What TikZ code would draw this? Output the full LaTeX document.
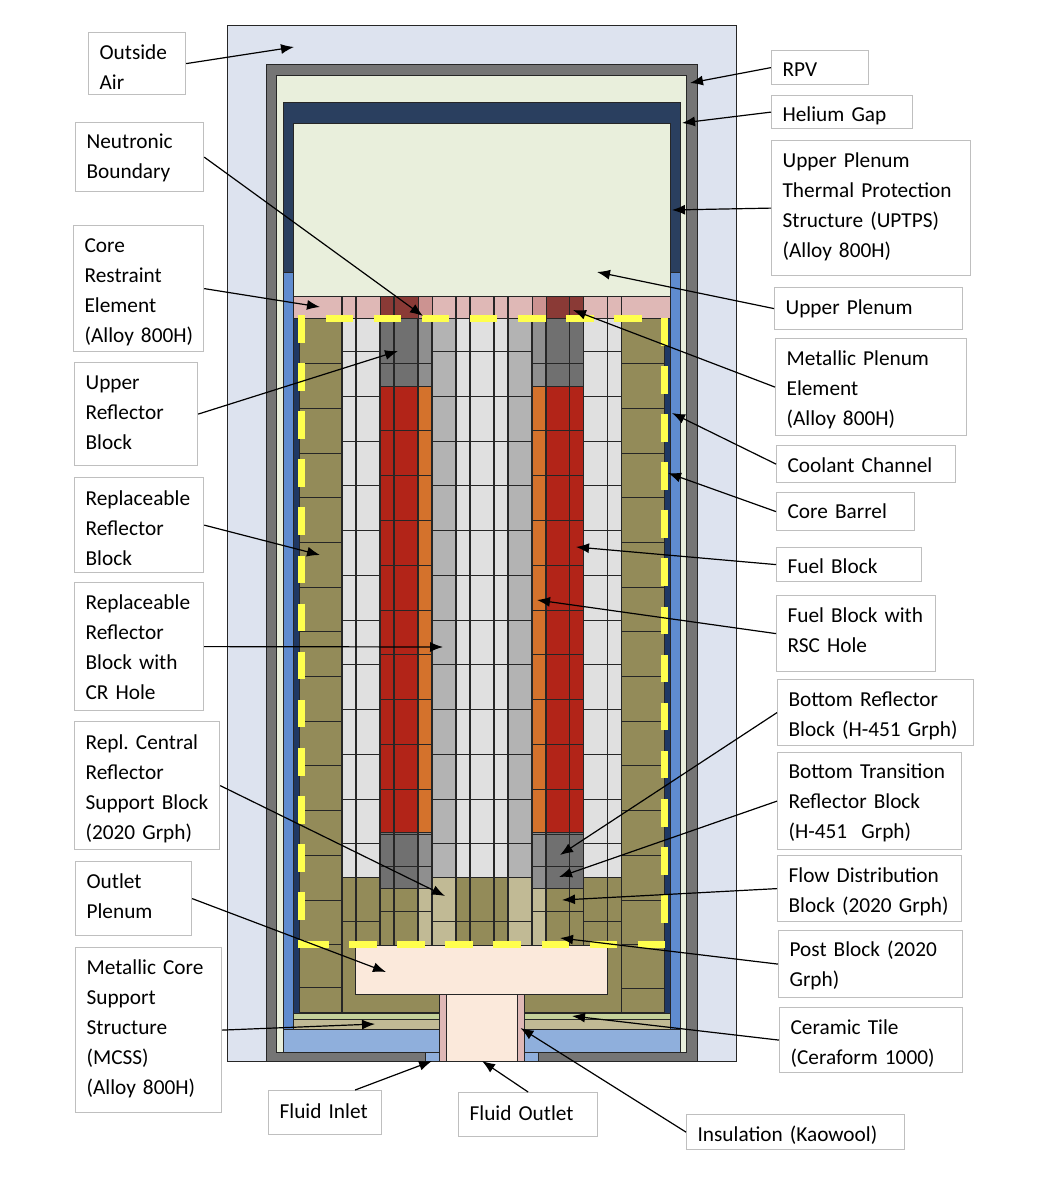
\documentclass[tikz,border=0pt]{standalone}
\usepackage{fontspec}
\setmainfont[WordSpace=0.8]{Carlito}
\usetikzlibrary{arrows.meta}
\tikzset{>={Latex[length=13pt,width=10pt]}}
\definecolor{aircol}{HTML}{DDE3EF}
\definecolor{rpvcol}{HTML}{757575}
\definecolor{gascol}{HTML}{E9EFDC}
\definecolor{navycol}{HTML}{2A3F5F}
\definecolor{barrelcol}{HTML}{5F8CCF}
\definecolor{channelcol}{HTML}{1F3864}
\definecolor{olivecol}{HTML}{938B59}
\definecolor{pinkcol}{HTML}{DFB8B6}
\definecolor{rosecol}{HTML}{CC9391}
\definecolor{brickcol}{HTML}{8A3A36}
\definecolor{tilecol}{HTML}{C5D19A}
\definecolor{tancol}{HTML}{C1BA95}
\definecolor{skycol}{HTML}{8FAFDC}
\definecolor{peachcol}{HTML}{FBE9DB}
\definecolor{lightcol}{HTML}{E0E0E0}
\definecolor{midcol}{HTML}{B3B3B3}
\definecolor{darkcol}{HTML}{707070}
\definecolor{greycol}{HTML}{8F8F8F}
\definecolor{redcol}{HTML}{B22418}
\definecolor{orangecol}{HTML}{D4722C}
\definecolor{yellowcol}{HTML}{FFFF4D}
\tikzset{part/.style = {draw=black!85, line width=0.9pt},
cut/.style = {draw=black!85, line width=1.25pt},
bound/.style = {yellowcol, line width=7pt, dash pattern=on 27.6pt off 20.5pt},
lbl/.style 2 args = {draw=black!25, line width=1.2pt, fill=white, anchor=north west,
inner xsep=11pt, inner ysep=0pt, align=left, text width=#1pt-22pt, minimum height=#2pt,
font=\fontsize{21.3}{30}\selectfont\frenchspacing},
tip/.style = {->, line width=1.2pt}}
\newcommand{\blk}[5]{\draw[part, fill=#1] (#2,#3) rectangle (#4,#5);}
\newcommand{\lbltxt}[2]{\raisebox{\dimexpr -#1pt-5pt\relax}[0pt][0pt]{\parbox[c]{\hsize}{#2}}}

\begin{document}
\begin{tikzpicture}[x=1pt,y=-1pt]
    \useasboundingbox (0,0) rectangle (1038,1196);

    % vessel and gas spaces
    \blk{aircol}{227.5}{25}{736}{1061}
    \blk{rpvcol}{266}{64}{697}{1061}
    \blk{gascol}{276.5}{75.5}{686.5}{1052}
    \blk{navycol}{283}{102}{680}{272}
    \blk{barrelcol}{283}{272}{680}{1030}
    \blk{channelcol}{293.5}{318}{670}{1013}
    \blk{gascol}{293.5}{123.5}{670}{296}

    % top element row
    \blk{pinkcol}{293.5}{296}{670}{318}
    \blk{brickcol}{380}{296}{418}{318}
    \blk{rosecol}{418}{296}{432}{318}
    \blk{rosecol}{532}{296}{546}{318}
    \blk{brickcol}{546}{296}{583.5}{318}
    \foreach \x in {342,356,394,456,470,494,508,569.5,607.5,621.5}
        \draw[cut] (\x,296) -- (\x,318);

    % side reflector
    \blk{olivecol}{299}{318}{342}{1012.5}
    \blk{olivecol}{621.5}{318}{664}{1012.5}
    \blk{olivecol}{342}{877}{621.5}{1012.5}
    \foreach \k in {0,...,13} {
        \draw[cut] (299,{floor(363.7+44.7*\k)+0.5}) -- (342,{floor(363.7+44.7*\k)+0.5});
        \draw[cut] (621.5,{floor(363.7+44.7*\k)+0.5}) -- (664,{floor(363.7+44.7*\k)+0.5});
    }
    \draw[cut] (299,987.5) -- (342,987.5);
    \draw[cut] (621.5,988.5) -- (664,988.5);

    % bottom plates
    \blk{skycol}{283.5}{1029.5}{680}{1052}
    \blk{tilecol}{293}{1013}{670.5}{1019.5}
    \blk{tancol}{293.5}{1019.5}{670.5}{1029.5}
    \blk{skycol}{425.5}{1052}{538}{1061}
    \blk{pinkcol}{439.5}{994.5}{524}{1061}
    \blk{peachcol}{446.5}{994.5}{517.5}{1061}

    % columns of graphite blocks
    \blk{lightcol}{342}{318}{380}{877}
    \blk{lightcol}{583.5}{318}{621.5}{877}
    \blk{midcol}{432}{318}{456}{877}
    \blk{lightcol}{456}{318}{508}{877}
    \blk{midcol}{508}{318}{532}{877}
    \blk{tancol}{432}{877}{456}{945}
    \blk{tancol}{508}{877}{532}{945}
    \foreach \k in {0,...,11} {
        \draw[cut] (342,{floor(351.7+44.75*\k)+0.5}) -- (380,{floor(351.7+44.75*\k)+0.5});
        \draw[cut] (432,{floor(351.7+44.75*\k)+0.5}) -- (532,{floor(351.7+44.75*\k)+0.5});
        \draw[cut] (583.5,{floor(351.7+44.75*\k)+0.5}) -- (621.5,{floor(351.7+44.75*\k)+0.5});
    }
    \foreach \a/\b in {342/380,432/532,583.5/621.5}
        \draw[cut] (\a,921.5) -- (\b,921.5);

    % fuel columns
    \blk{darkcol}{380}{318}{418}{386.5}
    \blk{greycol}{418}{318}{432}{386.5}
    \blk{greycol}{532}{318}{546}{386.5}
    \blk{darkcol}{546}{318}{583.5}{386.5}
    \blk{redcol}{380}{386.5}{418}{832.5}
    \blk{orangecol}{418}{386.5}{432}{832.5}
    \blk{orangecol}{532}{386.5}{546}{832.5}
    \blk{redcol}{546}{386.5}{583.5}{832.5}
    \blk{darkcol}{380}{832.5}{418}{888.5}
    \blk{greycol}{418}{832.5}{432}{888.5}
    \blk{greycol}{532}{832.5}{546}{888.5}
    \blk{darkcol}{546}{832.5}{583.5}{888.5}
    \blk{olivecol}{380}{888.5}{418}{945}
    \blk{tancol}{418}{888.5}{432}{945}
    \blk{tancol}{532}{888.5}{546}{945}
    \blk{olivecol}{546}{888.5}{583.5}{945}
    \foreach \a/\b in {380/432,532/583.5} {
        \foreach \k in {0,...,9}
            \draw[cut] (\a,{floor(430.8+44.8*\k)+0.5}) -- (\b,{floor(430.8+44.8*\k)+0.5});
        \foreach \y in {363.5,866.5,911.5}
            \draw[cut] (\a,\y) -- (\b,\y);
    }

    % vertical joints
    \foreach \x in {356,394,456,470,494,508,569.5,380,418,432,532,546,583.5,607.5}
        \draw[cut] (\x,318) -- (\x,945);
    \draw[cut] (342,318) -- (342,1012.5);
    \draw[cut] (621.5,318) -- (621.5,1012.5);

    % outlet plenum
    \blk{peachcol}{355.5}{945}{607.5}{994.5}

    % neutronic boundary
    \draw[bound] (301,315) -- (301,947.5);
    \draw[bound] (301,944.3) -- (666.5,944.3);
    \draw[bound] (664,922.7) -- (664,315);
    \draw[bound] (641.7,318.3) -- (326,318.3);

    % labels
    \node[lbl={97}{62}] (outside) at (88,32) {\lbltxt{4}{Outside\\Air}};
    \node[lbl={128}{69}] (neutronic) at (75,122) {\lbltxt{1}{Neutronic\\Boundary}};
    \node[lbl={130}{126}] (restraint) at (73,225) {\lbltxt{4}{Core\\Restraint\\Element\\\mbox{(Alloy 800H)}}};
    \node[lbl={123}{103}] (upperrefl) at (74,362) {\lbltxt{-1}{Upper\\Reflector\\Block}};
    \node[lbl={129}{95}] (replrefl) at (74,477) {\lbltxt{3}{Replaceable\\Reflector\\Block}};
    \node[lbl={129}{128}] (replcr) at (74,582) {\lbltxt{1}{Replaceable\\Reflector\\Block with\\CR Hole}};
    \node[lbl={145}{128}] (centralsup) at (74,721) {\lbltxt{3}{Repl. Central\\Reflector\\Support Block\\(2020 Grph)}};
    \node[lbl={116}{74}] (outletpl) at (75,861) {\lbltxt{-2}{Outlet\\Plenum}};
    \node[lbl={146}{165}] (mcss) at (75,947) {\lbltxt{-1}{Metallic Core\\Support\\Structure\\(MCSS)\\(Alloy 800H)}};
    \node[lbl={113}{44}] (inlet) at (268,1090) {\lbltxt{-1}{Fluid Inlet}};
    \node[lbl={139}{44}] (outlet) at (458,1092) {\lbltxt{-1}{Fluid Outlet}};
    \node[lbl={218}{35}] (kaowool) at (686,1114) {\lbltxt{3}{Insulation (Kaowool)}};
    \node[lbl={97}{34}] (rpv) at (771,50) {\lbltxt{2}{RPV}};
    \node[lbl={141}{33}] (helium) at (771,95) {\lbltxt{4}{Helium Gap}};
    \node[lbl={199}{135}] (uptps) at (771,140) {\lbltxt{-1}{Upper Plenum\\Thermal Protection\\Structure (UPTPS)\\(Alloy 800H)}};
    \node[lbl={188}{42}] (upperpl) at (774,287) {\lbltxt{0}{Upper Plenum}};
    \node[lbl={191}{97}] (metalpl) at (775,338) {\lbltxt{3}{Metallic Plenum\\Element\\(Alloy 800H)}};
    \node[lbl={179}{37}] (coolant) at (776,445) {\lbltxt{1}{Coolant Channel}};
    \node[lbl={138}{38}] (barrel) at (776,492) {\lbltxt{0}{Core Barrel}};
    \node[lbl={145}{34}] (fuel) at (776,547) {\lbltxt{2}{Fuel Block}};
    \node[lbl={159}{76}] (fuelrsc) at (776,595) {\lbltxt{-3}{Fuel Block with\\RSC Hole}};
    \node[lbl={196}{66}] (botrefl) at (777,679) {\lbltxt{3}{Bottom Reflector\\Block (H-451 Grph)}};
    \node[lbl={184}{97}] (bottrans) at (777,752) {\lbltxt{2}{Bottom Transition\\Reflector Block\\(H-451\ \ Grph)}};
    \node[lbl={184}{66}] (flowdist) at (777,855) {\lbltxt{3}{Flow Distribution\\Block (2020 Grph)}};
    \node[lbl={184}{67}] (post) at (778,930) {\lbltxt{2}{Post Block (2020\\Grph)}};
    \node[lbl={183}{65}] (tile) at (779,1007) {\lbltxt{4}{Ceramic Tile\\(Ceraform 1000)}};

    % arrow ends
    \coordinate (outsidetip) at (294,47);
    \coordinate (neutronictip) at (423,316);
    \coordinate (restrainttip) at (320,307);
    \coordinate (upperrefltip) at (398,351);
    \coordinate (replrefltip) at (320,555);
    \coordinate (replcrtip) at (443,647);
    \coordinate (centralsuptip) at (445,896);
    \coordinate (outletpltip) at (386,972);
    \coordinate (mcsstip) at (375,1024);
    \coordinate (inlettip) at (432,1061);
    \coordinate (outlettip) at (482,1061);
    \coordinate (kaowooltip) at (520.5,1028);
    \coordinate (rpvtip) at (690,83);
    \coordinate (heliumtip) at (682,123);
    \coordinate (uptpstip) at (672,210);
    \coordinate (upperpltip) at (597,272);
    \coordinate (metalpltip) at (573,310);
    \coordinate (coolanttip) at (672,413);
    \coordinate (barreltip) at (668,473);
    \coordinate (fueltip) at (576,547);
    \coordinate (fuelrsctip) at (537,600);
    \coordinate (botrefltip) at (560,855);
    \coordinate (bottranstip) at (559,877);
    \coordinate (flowdisttip) at (562,900);
    \coordinate (posttip) at (560,938);
    \coordinate (tiletip) at (572,1016);

    % arrows
    \foreach \n in {outside,neutronic,restraint,upperrefl,replrefl,replcr,centralsup,outletpl,mcss}
        \draw[tip] (\n.east) to (\n tip);
    \foreach \n in {rpv,helium,uptps,upperpl,metalpl,coolant,barrel,fuel,fuelrsc,botrefl,bottrans,flowdist,post,tile,kaowool}
        \draw[tip] (\n.west) to (\n tip);
    \draw[tip] ([xshift=30pt]inlet.north) to (inlettip);
    \draw[tip] (outlet.north) to (outlettip);
\end{tikzpicture}
\end{document}
